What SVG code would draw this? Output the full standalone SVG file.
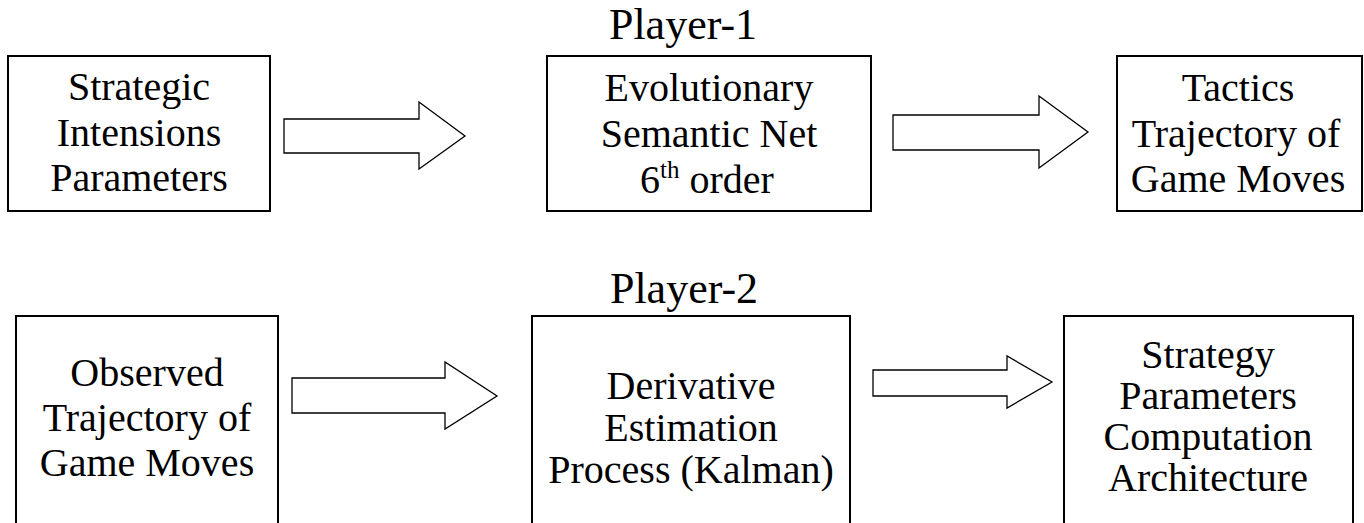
<svg xmlns="http://www.w3.org/2000/svg" width="1364" height="523" viewBox="0 0 1364 523">
<style>
.box{fill:#fff;stroke:#000;stroke-width:2}
.arr{fill:#fff;stroke:#000;stroke-width:1.3;stroke-linejoin:miter}
text{font-family:"Liberation Serif","Times New Roman",serif;fill:#000;text-anchor:middle}
.t{font-size:40px}
.p{font-size:44px}
</style>
<rect width="1364" height="523" fill="#fff"/>
<g id="label-player1"><text class="p" x="683" y="39">Player-1</text></g>
<g id="label-player2"><text class="p" x="684" y="303">Player-2</text></g>
<g id="n1">
<rect class="box" x="8" y="56" width="262" height="155"/>
<text class="t" x="139" y="100">Strategic</text>
<text class="t" x="139" y="146">Intensions</text>
<text class="t" x="139" y="191">Parameters</text>
</g>
<g id="n2">
<rect class="box" x="547" y="56" width="324" height="155"/>
<text class="t" x="709" y="101">Evolutionary</text>
<text class="t" x="709" y="147">Semantic Net</text>
<text class="t" x="707" y="193">6<tspan font-size="25" dy="-15">th</tspan><tspan dy="15"> order</tspan></text>
</g>
<g id="n3">
<rect class="box" x="1117" y="56" width="245" height="155"/>
<text class="t" x="1238" y="101">Tactics</text>
<text class="t" x="1236" y="147">Trajectory of</text>
<text class="t" x="1238" y="192">Game Moves</text>
</g>
<g id="n4">
<rect class="box" x="16" y="316" width="262" height="230"/>
<text class="t" x="147" y="386">Observed</text>
<text class="t" x="147" y="431">Trajectory of</text>
<text class="t" x="147" y="476">Game Moves</text>
</g>
<g id="n5">
<rect class="box" x="532" y="316" width="318" height="230"/>
<text class="t" x="691" y="399">Derivative</text>
<text class="t" x="691" y="441">Estimation</text>
<text class="t" x="691" y="483">Process (Kalman)</text>
</g>
<g id="n6">
<rect class="box" x="1064" y="316" width="289" height="230"/>
<text class="t" x="1208" y="368">Strategy</text>
<text class="t" x="1208" y="409">Parameters</text>
<text class="t" x="1208" y="450">Computation</text>
<text class="t" x="1208" y="491">Architecture</text>
</g>
<g id="connectors">
<polygon class="arr" points="284,119 419,119 419,102 465,136 419,169 419,153 284,153"/>
<polygon class="arr" points="893,115 1039,115 1039,96 1088,132 1039,168 1039,150 893,150"/>
<polygon class="arr" points="292,378 445,378 445,362 497,396 445,429 445,413 292,413"/>
<polygon class="arr" points="873,370 1007,370 1007,356 1052,382 1007,408 1007,396 873,396"/>
</g>
</svg>
